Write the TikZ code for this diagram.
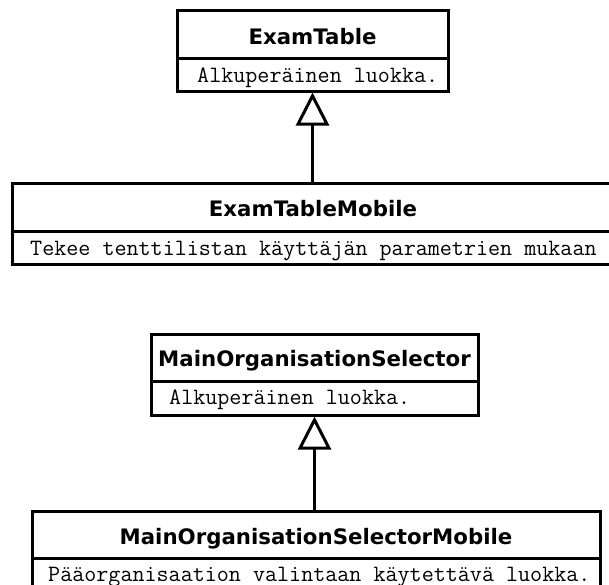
\documentclass[tikz,border=0pt]{standalone}
\usepackage{fontspec}
\newfontfamily\titlefont{DejaVu Sans}
\usetikzlibrary{arrows.meta}
\begin{document}
\begin{tikzpicture}[x=1pt,y=-1pt,
  compart/.style={draw, line width=3pt, inner sep=0pt},
  titletext/.style={font=\titlefont\bfseries\fontsize{21.3}{24}\selectfont, anchor=base, inner sep=0pt},
  bodytext/.style={font=\ttfamily\fontsize{23.4}{26}\selectfont, anchor=base west, inner sep=0pt},
  inherit/.style={line width=3pt, -{Triangle[open, length=33pt, width=33pt]}}
]
\useasboundingbox (0,0) rectangle (609,584);
\clip (0,0) rectangle (609,584);

% ExamTable
\node[compart, minimum width=271pt, minimum height=48pt] (etTitle) at (312.5,34) {};
\node[compart, minimum width=271pt, minimum height=33pt] (etBody) at (312.5,74.5) {};
\node[titletext] (etName) at (312.5,44) {ExamTable};
\node[bodytext] (etDesc) at (197,82) {Alkuperäinen luokka.};

% ExamTableMobile
\node[compart, minimum width=602pt, minimum height=48pt] (etmTitle) at (313,207) {};
\node[compart, minimum width=602pt, minimum height=33pt] (etmBody) at (313,247.5) {};
\node[titletext] (etmName) at (313,216) {ExamTableMobile};
\node[bodytext] (etmDesc) at (30,255) {Tekee tenttilistan käyttäjän parametrien mukaan};

% MainOrganisationSelector
\node[compart, minimum width=327pt, minimum height=47pt] (mosTitle) at (314.5,357.5) {};
\node[compart, minimum width=327pt, minimum height=34pt] (mosBody) at (314.5,398) {};
\node[titletext] (mosName) at (314.5,366) {MainOrganisationSelector};
\node[bodytext] (mosDesc) at (169,404) {Alkuperäinen luokka.};

% MainOrganisationSelectorMobile
\node[compart, minimum width=568pt, minimum height=47pt] (mosmTitle) at (316,534.5) {};
\node[compart, minimum width=568pt, minimum height=33pt] (mosmBody) at (316,574.5) {};
\node[titletext] (mosmName) at (316,544) {MainOrganisationSelectorMobile};
\node[bodytext] (mosmDesc) at (48,581) {Pääorganisaation valintaan käytettävä luokka.};

% inheritance
\draw[inherit] (etmTitle.north -| etBody.south) -- (etBody.south);
\draw[inherit] (mosmTitle.north -| mosBody.south) -- (mosBody.south);
\end{tikzpicture}
\end{document}
